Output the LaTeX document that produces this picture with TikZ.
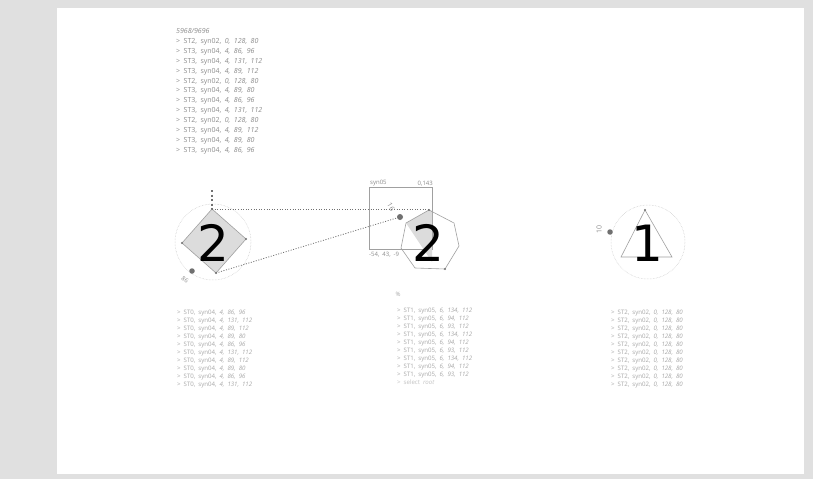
\documentclass[tikz,border=0pt]{standalone}
\usepackage{fontspec}
\setmainfont[WordSpace=1.9]{Open Sans}
\newfontfamily\bigfont{DejaVu Sans}
\usetikzlibrary{shapes.geometric}
\definecolor{bgout}{HTML}{E0E0E0}
\definecolor{txt}{HTML}{8C8C8C}
\definecolor{txtl}{HTML}{A8A8A8}
\definecolor{edge}{HTML}{A0A0A0}
\definecolor{fillg}{HTML}{DCDCDC}
\definecolor{dotc}{HTML}{707070}
\tikzset{
  listtop/.style={anchor=north west, inner sep=0pt, align=left, text=txt, font=\fontsize{7}{9.95}\selectfont},
  listbot/.style={anchor=north west, inner sep=0pt, align=left, text=txtl, font=\fontsize{6.1}{7.95}\selectfont},
  bignum/.style={inner sep=0pt, font=\bigfont\fontsize{50}{50}\selectfont, text=black},
  vdot/.style={circle, fill=dotc, inner sep=0pt, minimum size=2.2pt},
  bdot/.style={circle, fill=dotc, inner sep=0pt, minimum size=6pt},
  ring/.style={draw=edge!60, densely dotted, line width=0.5pt},
  shp/.style={draw=edge, line width=0.6pt},
  conn/.style={draw=dotc, line width=0.8pt, dash pattern=on 1pt off 1.6pt},
  small/.style={inner sep=0pt, text=txt, font=\fontsize{6}{6}\selectfont}
}
\begin{document}
\begin{tikzpicture}[x=1pt,y=-1pt]
\useasboundingbox (0,0) rectangle (813,479);
\fill[bgout] (0,0) rectangle (813,479);
\fill[white] (57,8) rectangle (804,474);

% top-left log
\node[listtop] (hdr) at (176,28) {\textit{5968/9696}\\
> ST2, syn02, \textit{0, 128, 80}\\
> ST3, syn04, \textit{4, 86, 96}\\
> ST3, syn04, \textit{4, 131, 112}\\
> ST3, syn04, \textit{4, 89, 112}\\
> ST2, syn02, \textit{0, 128, 80}\\
> ST3, syn04, \textit{4, 89, 80}\\
> ST3, syn04, \textit{4, 86, 96}\\
> ST3, syn04, \textit{4, 131, 112}\\
> ST2, syn02, \textit{0, 128, 80}\\
> ST3, syn04, \textit{4, 89, 112}\\
> ST3, syn04, \textit{4, 89, 80}\\
> ST3, syn04, \textit{4, 86, 96}};

% left: diamond
\draw[ring] (213,242) circle (38);
\coordinate (dT) at (212,209);
\coordinate (dR) at (246,239);
\coordinate (dB) at (216,273);
\coordinate (dL) at (182,243);
\filldraw[shp, fill=fillg] (dT) -- (dR) -- (dB) -- (dL) -- cycle;
\foreach \p in {dT,dR,dB,dL} \node[vdot] at (\p) {};
\node[bignum] (n2a) at (213,243) {2};
\coordinate (vtop) at (212,190);
\draw[dotc, line width=2pt, dash pattern=on 2pt off 2.5pt] (vtop) -- (dT);
\node[bdot, minimum size=5.5pt] (ldot) at (192,271) {};
\node[small, rotate=-35] (llab) at (185,280) {86};

% middle box
\coordinate (bxa) at (369,187);
\coordinate (bxb) at (432,249);
\draw[edge, line width=0.6pt] (bxa) rectangle (bxb);
\node[small, anchor=south west] (bl1) at (370,186) {syn05};
\node[small, anchor=south east] (bl2) at (433,186) {0,143};
\node[small, anchor=north west] (bl3) at (369,252) {-54, 43, -9};

% heptagon
\coordinate (h1) at (429,210);
\coordinate (h2) at (454,223);
\coordinate (h3) at (459,246);
\coordinate (h4) at (445,269);
\coordinate (h5) at (415,268);
\coordinate (h6) at (401,248);
\coordinate (h7) at (406,223);
\fill[fillg] (h7) -- (h1) -- (432,211) -- (432,262) -- cycle;
\draw[shp] (h1) -- (h2) -- (h3) -- (h4) -- (h5) -- (h6) -- (h7) -- cycle;
\node[vdot] at (h1) {};
\node[vdot] at (h4) {};
\node[bignum] (n2b) at (428,243) {2};
\node[bdot] (mdot) at (400,217) {};
\node[small, rotate=-60, font=\fontsize{7}{7}\selectfont] (mlab) at (391,207) {16};

% connectors
\draw[conn] (dT) -- (h1 |- dT);
\draw[conn] (dB) -- (mdot);

% right: triangle
\draw[ring] (648,242) circle (37);
\coordinate (t1) at (645,210);
\coordinate (t2) at (672,257);
\coordinate (t3) at (621,257);
\draw[shp] (t1) -- (t2) -- (t3) -- cycle;
\node[vdot] at (t1) {};
\node[bignum] (n1) at (647,243) {1};
\node[bdot, minimum size=5.5pt] (rdot) at (610,232) {};
\node[small, rotate=90, font=\fontsize{7}{7}\selectfont] (rlab) at (599,229) {10};

% bottom lists
\node[listbot] (lb) at (177,310) {> ST0, syn04, \textit{4, 86, 96}\\
> ST0, syn04, \textit{4, 131, 112}\\
> ST0, syn04, \textit{4, 89, 112}\\
> ST0, syn04, \textit{4, 89, 80}\\
> ST0, syn04, \textit{4, 86, 96}\\
> ST0, syn04, \textit{4, 131, 112}\\
> ST0, syn04, \textit{4, 89, 112}\\
> ST0, syn04, \textit{4, 89, 80}\\
> ST0, syn04, \textit{4, 86, 96}\\
> ST0, syn04, \textit{4, 131, 112}};

\node[small, text=txtl] (icon) at (398,294) {\%};
\node[listbot] (mb) at (397,308) {> ST1, syn05, \textit{6, 134, 112}\\
> ST1, syn05, \textit{6, 94, 112}\\
> ST1, syn05, \textit{6, 93, 112}\\
> ST1, syn05, \textit{6, 134, 112}\\
> ST1, syn05, \textit{6, 94, 112}\\
> ST1, syn05, \textit{6, 93, 112}\\
> ST1, syn05, \textit{6, 134, 112}\\
> ST1, syn05, \textit{6, 94, 112}\\
> ST1, syn05, \textit{6, 93, 112}\\
\textcolor{txtl!70}{> select \textit{root}}};

\node[listbot] (rb) at (611,310) {> ST2, syn02, \textit{0, 128, 80}\\
> ST2, syn02, \textit{0, 128, 80}\\
> ST2, syn02, \textit{0, 128, 80}\\
> ST2, syn02, \textit{0, 128, 80}\\
> ST2, syn02, \textit{0, 128, 80}\\
> ST2, syn02, \textit{0, 128, 80}\\
> ST2, syn02, \textit{0, 128, 80}\\
> ST2, syn02, \textit{0, 128, 80}\\
> ST2, syn02, \textit{0, 128, 80}\\
> ST2, syn02, \textit{0, 128, 80}};
\end{tikzpicture}
\end{document}
